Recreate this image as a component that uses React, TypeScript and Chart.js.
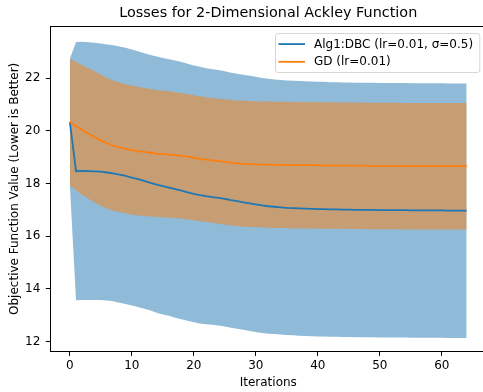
import React, { useEffect, useRef } from "react";
import { Chart, registerables } from "chart.js";

Chart.register(...registerables);

const TITLE = "Losses for 2-Dimensional Ackley Function";
const X_LABEL = "Iterations";
const Y_LABEL = "Objective Function Value (Lower is Better)";
const SERIES_NAMES = ["Alg1:DBC (lr=0.01, \u03c3=0.5)", "GD (lr=0.01)"];
const X_TICKS = [0, 10, 20, 30, 40, 50, 60];
const Y_TICKS = [12, 14, 16, 18, 20, 22];

const DBC_MEAN = [
  20.34, 18.47, 18.48, 18.47, 18.46, 18.45, 18.42, 18.39, 18.34, 18.29,
  18.23, 18.17, 18.10, 18.03, 17.96, 17.90, 17.85, 17.79, 17.73, 17.67,
  17.61, 17.56, 17.52, 17.49, 17.46, 17.42, 17.37, 17.33, 17.29, 17.25,
  17.21, 17.17, 17.14, 17.12, 17.10, 17.08, 17.07, 17.06, 17.05, 17.04,
  17.03, 17.03, 17.02, 17.02, 17.01, 17.01, 17.00, 17.00, 17.00, 17.00,
  16.99, 16.99, 16.99, 16.99, 16.99, 16.98, 16.98, 16.98, 16.98, 16.98,
  16.98, 16.97, 16.97, 16.97, 16.97,
];
const DBC_STD = [
  2.40, 4.90, 4.90, 4.89, 4.88, 4.87, 4.86, 4.86, 4.86, 4.86,
  4.86, 4.85, 4.85, 4.85, 4.86, 4.87, 4.87, 4.88, 4.88, 4.88,
  4.87, 4.87, 4.86, 4.85, 4.85, 4.84, 4.84, 4.84, 4.84, 4.84,
  4.84, 4.84, 4.84, 4.83, 4.83, 4.83, 4.83, 4.83, 4.83, 4.83,
  4.83, 4.83, 4.83, 4.83, 4.83, 4.83, 4.83, 4.83, 4.83, 4.83,
  4.83, 4.83, 4.83, 4.83, 4.83, 4.83, 4.83, 4.83, 4.83, 4.83,
  4.83, 4.83, 4.83, 4.83, 4.83,
];
const GD_MEAN = [
  20.34, 20.18, 20.03, 19.90, 19.77, 19.64, 19.53, 19.44, 19.37, 19.32,
  19.27, 19.23, 19.20, 19.17, 19.14, 19.12, 19.10, 19.08, 19.05, 19.02,
  18.98, 18.94, 18.91, 18.88, 18.85, 18.82, 18.79, 18.77, 18.75, 18.74,
  18.73, 18.72, 18.72, 18.71, 18.71, 18.71, 18.70, 18.70, 18.70, 18.70,
  18.69, 18.69, 18.69, 18.69, 18.68, 18.68, 18.68, 18.68, 18.67, 18.67,
  18.67, 18.67, 18.67, 18.67, 18.66, 18.66, 18.66, 18.66, 18.66, 18.66,
  18.66, 18.66, 18.66, 18.66, 18.66,
];
const GD_STD = [
  2.40, 2.43, 2.46, 2.48, 2.49, 2.49, 2.48, 2.47, 2.46, 2.45,
  2.45, 2.44, 2.43, 2.42, 2.41, 2.40, 2.40, 2.39, 2.38, 2.38,
  2.37, 2.37, 2.37, 2.37, 2.37, 2.38, 2.38, 2.38, 2.39, 2.39,
  2.39, 2.39, 2.40, 2.40, 2.40, 2.40, 2.40, 2.40, 2.40, 2.40,
  2.40, 2.40, 2.40, 2.40, 2.40, 2.40, 2.40, 2.40, 2.40, 2.40,
  2.40, 2.40, 2.40, 2.40, 2.40, 2.40, 2.40, 2.40, 2.40, 2.40,
  2.40, 2.40, 2.40, 2.40, 2.40,
];

const BLUE = "#1f77b4";
const ORANGE = "#ff7f0e";
const FONT = "'DejaVu Sans', sans-serif";
const FS = 12;

const pts = (vals: number[]) => vals.map((y, x) => ({ x, y }));

const overlay = {
  id: "overlay",
  afterDraw(chart: any) {
    const { ctx, chartArea } = chart;
    const { left, right, top } = chartArea;
    ctx.save();
    // top spine
    ctx.strokeStyle = "#000";
    ctx.lineWidth = 1;
    ctx.beginPath();
    ctx.moveTo(left, Math.round(top) + 0.5);
    ctx.lineTo(right + 2, Math.round(top) + 0.5);
    ctx.stroke();
    // title
    ctx.fillStyle = "#000";
    ctx.font = `14.4px ${FONT}`;
    ctx.textAlign = "center";
    ctx.textBaseline = "middle";
    ctx.fillText(TITLE, (left + right) / 2, 13.5);
    // legend
    const bx = right - 211.5, by = top + 7.3, bw = 204.3, bh = 39;
    ctx.fillStyle = "rgba(255,255,255,0.8)";
    ctx.strokeStyle = "rgba(204,204,204,0.8)";
    ctx.lineWidth = 1;
    ctx.beginPath();
    ctx.roundRect(Math.round(bx) + 0.5, Math.round(by) + 0.5, bw, bh, 2.5);
    ctx.fill();
    ctx.stroke();
    const colors = [BLUE, ORANGE];
    ctx.font = `${FS}px ${FONT}`;
    ctx.textAlign = "left";
    ctx.textBaseline = "middle";
    SERIES_NAMES.forEach((name, i) => {
      const y = by + 10.8 + i * 17.7;
      ctx.strokeStyle = colors[i];
      ctx.lineWidth = 1.8;
      ctx.beginPath();
      ctx.moveTo(bx + 3.5, y);
      ctx.lineTo(bx + 30, y);
      ctx.stroke();
      ctx.fillStyle = "#000";
      ctx.fillText(name, bx + 39, y + 0.5);
    });
    ctx.restore();
  },
};

export default function App() {
  const ref = useRef<HTMLCanvasElement>(null);
  useEffect(() => {
    const line = (label: string, data: number[], color: string, order: number) => ({
      label,
      data: pts(data),
      borderColor: color,
      backgroundColor: color,
      borderWidth: 1.8,
      pointRadius: 0,
      tension: 0,
      fill: false,
      order,
    });
    const band = (vals: number[], fillColor: string, fill: any, order: number) => ({
      label: "",
      data: pts(vals),
      borderWidth: 0,
      borderColor: "rgba(0,0,0,0)",
      backgroundColor: fillColor,
      pointRadius: 0,
      tension: 0,
      fill,
      order,
    });
    const dbcUp = DBC_MEAN.map((m, i) => m + DBC_STD[i]);
    const dbcLo = DBC_MEAN.map((m, i) => m - DBC_STD[i]);
    const gdUp = GD_MEAN.map((m, i) => m + GD_STD[i]);
    const gdLo = GD_MEAN.map((m, i) => m - GD_STD[i]);
    const tickFont = { family: FONT, size: FS };
    const grid = {
      display: true,
      drawOnChartArea: false,
      drawTicks: true,
      tickLength: 4.2,
      tickColor: "#000",
      tickWidth: 1,
    };
    const chart = new Chart(ref.current!, {
      type: "line",
      data: {
        datasets: [
          line(SERIES_NAMES[0], DBC_MEAN, BLUE, 1),
          line(SERIES_NAMES[1], GD_MEAN, ORANGE, 0),
          band(gdUp, "rgba(255,127,14,0.5)", "+1", 2),
          band(gdLo, "rgba(255,127,14,0.5)", false, 2),
          band(dbcUp, "rgba(31,119,180,0.5)", "+1", 3),
          band(dbcLo, "rgba(31,119,180,0.5)", false, 3),
        ] as any,
      },
      options: {
        animation: false,
        responsive: false,
        devicePixelRatio: 1,
        layout: { padding: { left: 0, top: 26, right: 3.5, bottom: 0 } },
        plugins: {
          legend: { display: false },
          title: { display: false },
          tooltip: { enabled: false },
          filler: { drawTime: "beforeDatasetsDraw" } as any,
        },
        scales: {
          x: {
            type: "linear",
            min: -3.2,
            max: 67.2,
            afterFit: (s: any) => { s.height = 40.3; },
            afterBuildTicks: (s: any) => { s.ticks = X_TICKS.map((v) => ({ value: v })); },
            ticks: {
              autoSkip: false,
              maxRotation: 0,
              padding: 3.2,
              color: "#000",
              font: tickFont,
            },
            grid,
            border: { display: true, color: "#000", width: 1 },
            title: {
              display: true,
              text: X_LABEL,
              color: "#000",
              font: { family: FONT, size: FS, lineHeight: 1.2 },
              padding: { top: 0, bottom: 2.1 },
            },
          },
          y: {
            type: "linear",
            min: 11.62,
            max: 23.98,
            afterFit: (s: any) => { s.width = 50; },
            afterBuildTicks: (s: any) => { s.ticks = Y_TICKS.map((v) => ({ value: v })); },
            ticks: {
              autoSkip: false,
              padding: 5.5,
              color: "#000",
              font: tickFont,
            },
            grid,
            border: { display: true, color: "#000", width: 1 },
            title: {
              display: true,
              text: Y_LABEL,
              color: "#000",
              font: { family: FONT, size: FS, lineHeight: 1.2 },
              padding: { top: 7.8, bottom: 0 },
            },
          },
        },
      },
      plugins: [overlay],
    });
    return () => chart.destroy();
  }, []);
  return (
    <div
      style={{
        position: "fixed",
        left: 0,
        top: 0,
        width: 483,
        height: 392,
        overflow: "hidden",
        background: "#fff",
      }}
    >
      <canvas
        ref={ref}
        width={490}
        height={392}
        style={{ display: "block", width: 490, height: 392 }}
      />
    </div>
  );
}
